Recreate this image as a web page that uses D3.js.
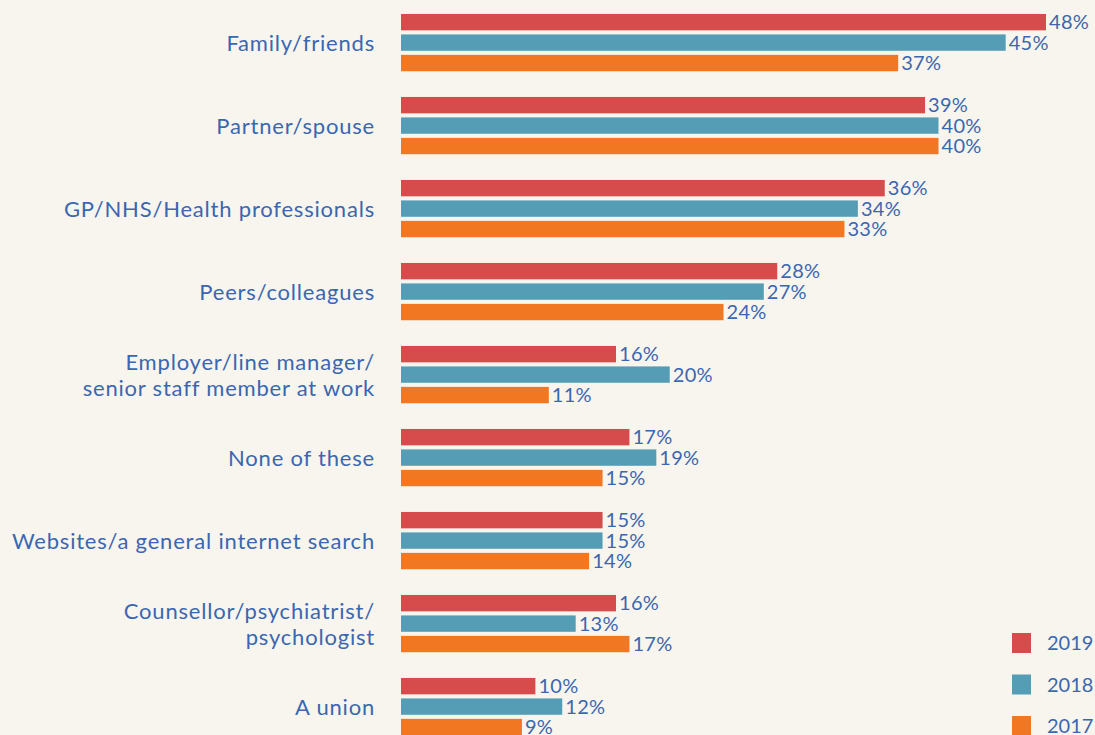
<!DOCTYPE html>
<html>
<head>
<meta charset="utf-8">
<script src="https://cdn.jsdelivr.net/npm/d3@7"></script>
<style>
  html, body { margin: 0; padding: 0; background: #F8F5EE; }
  svg { display: block; }
</style>
</head>
<body>
<div id="chart"></div>
<script>
// categories and values
const categories = [
  'Family/friends',
  'Partner/spouse',
  'GP/NHS/Health professionals',
  'Peers/colleagues',
  'Employer/line manager/\nsenior staff member at work',
  'None of these',
  'Websites/a general internet search',
  'Counsellor/psychiatrist/\npsychologist',
  'A union'
];
const years = ['2019', '2018', '2017'];
const values2019 = [48, 39, 36, 28, 16, 17, 15, 16, 10];
const values2018 = [45, 40, 34, 27, 20, 19, 15, 13, 12];
const values2017 = [37, 40, 33, 24, 11, 15, 14, 17, 9];
const colors = ['#D64B4B', '#559DB5', '#F27722'];

const width = 1095, height = 735;
const textColor = '#3A67B1';
const font = 'Lato, "Open Sans", sans-serif';

const seriesByYear = { '2019': values2019, '2018': values2018, '2017': values2017 };

const svg = d3.select('#chart')
  .append('svg')
  .attr('width', width)
  .attr('height', height);

svg.append('rect')
  .attr('width', width)
  .attr('height', height)
  .attr('fill', '#F8F5EE');

const x = d3.scaleLinear().domain([0, 48]).range([401, 1046]);

const y = d3.scaleBand()
  .domain(categories)
  .range([1.1, 748.1])
  .paddingInner(0.31)
  .paddingOuter(0.155);

const yInner = d3.scaleBand()
  .domain(years)
  .range([0, y.bandwidth()])
  .paddingInner(0.2);

const color = d3.scaleOrdinal().domain(years).range(colors);

// bars
const groups = svg.append('g')
  .selectAll('g')
  .data(categories)
  .join('g')
  .attr('transform', d => `translate(0, ${y(d)})`);

groups.selectAll('rect')
  .data((c, i) => years.map(yr => ({ year: yr, value: seriesByYear[yr][i] })))
  .join('rect')
  .attr('x', x(0))
  .attr('y', d => yInner(d.year))
  .attr('width', d => x(d.value) - x(0))
  .attr('height', yInner.bandwidth())
  .attr('fill', d => color(d.year));

// value labels
groups.selectAll('text.val')
  .data((c, i) => years.map(yr => ({ year: yr, value: seriesByYear[yr][i] })))
  .join('text')
  .attr('class', 'val')
  .attr('x', d => x(d.value) + 3)
  .attr('y', d => yInner(d.year) + yInner.bandwidth() / 2)
  .attr('dy', '0.36em')
  .attr('font-family', font)
  .attr('font-size', 20)
  .attr('letter-spacing', '0.3px')
  .attr('fill', textColor)
  .text(d => d.value + '%');

// category labels
const labels = svg.append('g');
categories.forEach(c => {
  const lines = c.split('\n');
  const cy = y(c) + y.bandwidth() / 2;
  const lh = 26;
  const t = labels.append('text')
    .attr('text-anchor', 'end')
    .attr('font-family', font)
    .attr('font-size', 22)
    .attr('letter-spacing', '0.8px')
    .attr('fill', textColor);
  lines.forEach((ln, j) => {
    t.append('tspan')
      .attr('x', 375)
      .attr('y', cy + (j - (lines.length - 1) / 2) * lh)
      .attr('dy', '0.36em')
      .text(ln);
  });
});

// legend
const legend = svg.append('g')
  .selectAll('g')
  .data(years)
  .join('g')
  .attr('transform', (d, i) => `translate(1012, ${633 + i * 41.5})`);

legend.append('rect')
  .attr('width', 19)
  .attr('height', 20)
  .attr('fill', d => color(d));

legend.append('text')
  .attr('x', 35)
  .attr('y', 10)
  .attr('dy', '0.36em')
  .attr('font-family', font)
  .attr('font-size', 20)
  .attr('fill', textColor)
  .text(d => d);
</script>
</body>
</html>
